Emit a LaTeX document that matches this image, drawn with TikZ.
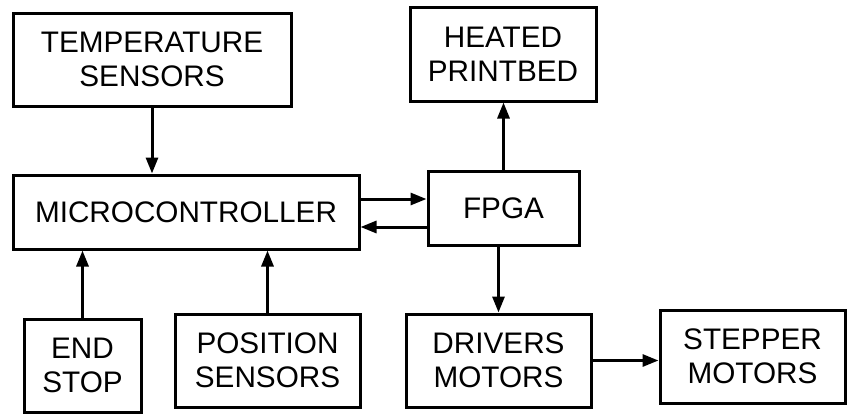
\documentclass[tikz,border=0pt]{standalone}
\usepackage{fontspec}
\setmainfont{Liberation Sans}
\usetikzlibrary{arrows.meta,positioning}
\tikzset{
  blk/.style = {draw, line width=3pt, rectangle, minimum height=93pt, inner sep=2pt, align=center, font=\fontsize{29.7}{34}\selectfont},
  arrow/.style = {line width=3pt, -{Triangle[length=16pt,width=12pt]}}
}

\begin{document}
\begin{tikzpicture}[x=1pt,y=-1pt]
            \useasboundingbox (0,0) rectangle (848,415);
            \node[blk, minimum width=278pt] (temp) at (152,59.5) {TEMPERATURE\\SENSORS};
            \node[blk, minimum width=186pt, minimum height=94pt] (heated) at (503,54) {HEATED\\PRINTBED};
            \node[blk, minimum width=346pt, minimum height=74pt] (micro) at (186,212) {MICROCONTROLLER};
            \node[blk, minimum width=151pt, minimum height=74pt] (fpga) at (503.5,208) {FPGA};
            \node[blk, minimum width=117pt] (endstop) at (82.5,365.5) {END\\STOP};
            \node[blk, minimum width=185pt] (pos) at (267.5,360.5) {POSITION\\SENSORS};
            \node[blk, minimum width=185pt] (drivers) at (498.5,360.5) {DRIVERS\\MOTORS};
            \node[blk, minimum width=185pt] (stepper) at (752.5,356.5) {STEPPER\\MOTORS};
            \draw[arrow] (temp.south) -- (temp.south |- micro.north);
            \draw[arrow] (endstop.north) -- (endstop.north |- micro.south);
            \draw[arrow] (pos.north) -- (pos.north |- micro.south);
            \draw[arrow] ([yshift=13pt]micro.east) -- ([yshift=13pt]micro.east -| fpga.west);
            \draw[arrow] ([yshift=-15pt]micro.east -| fpga.west) -- ([yshift=-15pt]micro.east);
            \draw[arrow] (fpga.north) -- (fpga.north |- heated.south);
            \draw[arrow] (drivers.north |- fpga.south) -- (drivers.north);
            \draw[arrow] (drivers.east) -- (drivers.east -| stepper.west);
        \end{tikzpicture}
\end{document}
